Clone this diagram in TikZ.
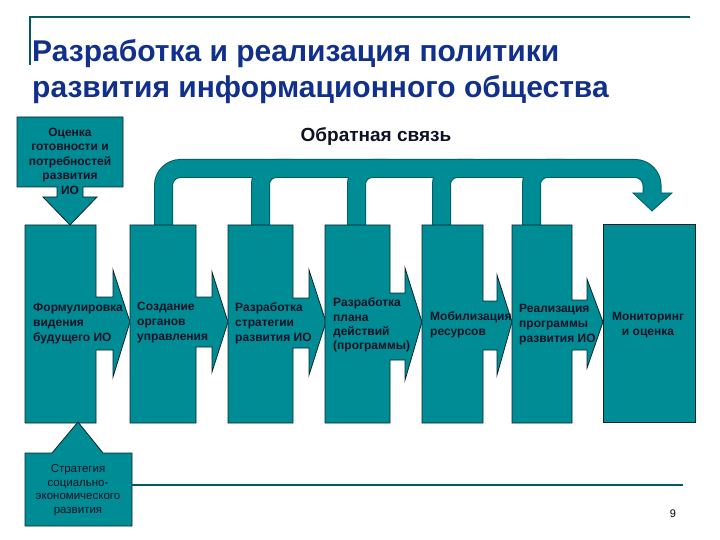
\documentclass[tikz,border=0pt]{standalone}
\usepackage{fontspec}
\setmainfont{Liberation Sans}
\usetikzlibrary{positioning}

\definecolor{tealfill}{RGB}{0,140,148}
\definecolor{tealedge}{RGB}{0,92,98}
\definecolor{boxedge}{RGB}{12,36,44}
\definecolor{titleblue}{RGB}{16,48,140}
\definecolor{darktext}{RGB}{14,18,38}

\tikzset{
  stage/.style={fill=tealfill,draw=boxedge,line width=.8pt,line join=miter},
  boxtext/.style={text=darktext,font=\fontsize{12}{15}\selectfont\bfseries,inner sep=0pt,align=left,anchor=west},
  smalltext/.style={text=darktext,font=\fontsize{12}{14.5}\selectfont\bfseries,inner sep=0pt,align=center},
  titletext/.style={anchor=base west,inner sep=0pt,text=titleblue,font=\fontsize{30}{36}\selectfont\bfseries},
  fbedge/.style={draw=tealedge,line width=19pt},
  fbfill/.style={draw=tealfill,line width=17pt}
}

% x1, x2, shaft top, shaft bottom, tab x, head top, head bottom, tip x
\newcommand{\stagebox}[8]{%
  \filldraw[stage] (#1,225) -- (#2,225) -- (#2,#3) -- (#5,#3) -- (#5,#6) -- (#8,322)
    -- (#5,#7) -- (#5,#4) -- (#2,#4) -- (#2,423) -- (#1,423) -- cycle;}

\begin{document}
\begin{tikzpicture}[x=1pt,y=-1pt]
\useasboundingbox (0,0) rectangle (720,540);

% title frame
\draw[tealedge,line width=1.5pt] (30,65) -- (30,17) -- (690,17);
\node[titletext] (title1) at (32,62) {Разработка и реализация политики};
\node[titletext] (title2) at (32,98) {развития информационного общества};

\node[anchor=base,inner sep=0pt,text=darktext,font=\fontsize{19}{22}\selectfont\bfseries] (fb) at (376,142) {Обратная связь};

% feedback arrow
\coordinate (s2) at (163.5,225);
\coordinate (s3) at (260.5,225);
\coordinate (s4) at (356.5,225);
\coordinate (s5) at (441.5,225);
\coordinate (s6) at (531.5,225);
\coordinate (fbend) at (652,196);
\draw[fbedge,rounded corners=17pt] (s2) -- (163.5,168.5) -- (652,168.5) -- (fbend);
\foreach \s in {s3,s4,s5,s6}
  \draw[fbedge,rounded corners=16pt] (\s) -- ++(0,-56.5) -- ++(32,0);
\filldraw[fill=tealfill,draw=tealedge,line width=.8pt] (633,193) -- (672,193) -- (652,211) -- cycle;
\draw[fbfill,rounded corners=17pt] (s2) -- (163.5,168.5) -- (652,168.5) -- (fbend);
\foreach \s in {s3,s4,s5,s6}
  \draw[fbfill,rounded corners=16pt] (\s) -- ++(0,-56.5) -- ++(32,0);

% stages
\stagebox{25}{96}{297}{350}{113}{270}{377}{130}
\stagebox{130}{196}{297}{347}{212}{272}{372}{228}
\stagebox{228}{293}{298}{348}{309}{270}{375}{326}
\stagebox{325}{390}{293}{360}{405}{268}{380}{422}
\stagebox{422}{483}{301}{350}{497}{275}{375}{512}
\stagebox{512}{572}{300}{350}{587}{279}{368}{603}
\filldraw[stage] (603,224) rectangle (695,422);

% inputs
\filldraw[stage] (17,117) -- (123,117) -- (123,187) -- (83,187) -- (83,197) -- (97,197)
  -- (70,225) -- (43,197) -- (57,197) -- (57,187) -- (17,187) -- cycle;
\filldraw[stage] (25,453) -- (52,453) -- (78,422) -- (103,453) -- (132,453) -- (132,526)
  -- (25,526) -- cycle;
\draw[tealedge,line width=2pt] (132,485) -- (683,485);

% texts
\node[smalltext] (assess) at (70,161) {Оценка\\готовности и\\потребностей\\развития\\ИО};
\node[smalltext,font=\fontsize{11.5}{13.5}\selectfont] (strat) at (78,490) {Стратегия\\социально-\\экономического\\развития};
\node[boxtext] (t1) at (33,324) {Формулировка\\видения\\будущего ИО};
\node[boxtext] (t2) at (137,323) {Создание\\органов\\управления};
\node[boxtext] (t3) at (235,323) {Разработка\\стратегии\\развития ИО};
\node[boxtext,font=\fontsize{12}{14.3}\selectfont\bfseries] (t4) at (333,325) {Разработка\\плана\\действий\\(программы)};
\node[boxtext] (t5) at (430,325) {Мобилизация\\ресурсов};
\node[boxtext] (t6) at (519,325) {Реализация\\программы\\развития ИО};
\node[smalltext,font=\fontsize{12}{15}\selectfont\bfseries] (t7) at (648,325) {Мониторинг\\и оценка};
\node[inner sep=0pt,font=\fontsize{11}{13}\selectfont] (page) at (673,514) {9};
\end{tikzpicture}
\end{document}
